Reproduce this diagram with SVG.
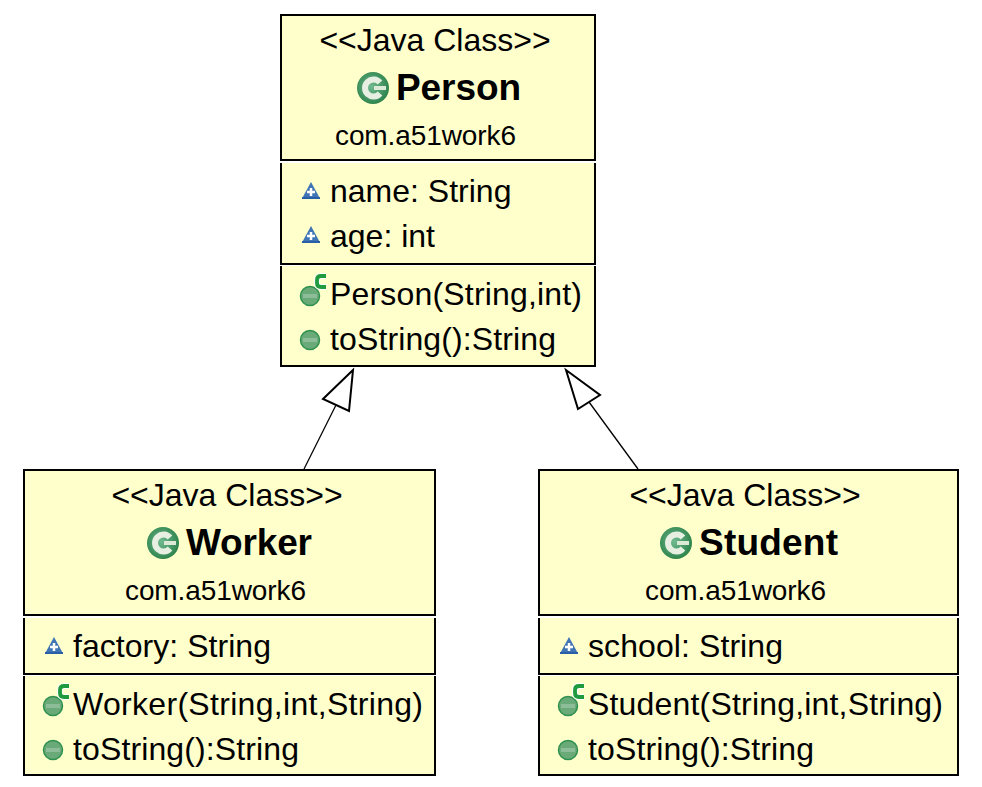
<svg xmlns="http://www.w3.org/2000/svg" width="982" height="787" viewBox="0 0 982 787">
<style>
text{font-family:"Liberation Sans",Arial,sans-serif;fill:#000;font-size:32px}
.fill{fill:#ffffcc;stroke:none}
.edge{fill:none;stroke:#000;stroke-width:2}
.pkg{font-size:28px}
.name{font-size:37px;font-weight:bold}
.conn{fill:none;stroke:#000;stroke-width:1.3}
.head{fill:#fff;stroke:#000;stroke-width:2}
</style>
<defs>
<radialGradient id="gc" cx="0.45" cy="0.45" r="0.6"><stop offset="0" stop-color="#6fb98f"/><stop offset="1" stop-color="#2a8048"/></radialGradient>
<g id="cls"><circle r="16" fill="url(#gc)"/><path d="M7 -5.500A8.500 8.500 0 1 0 7 5.500" fill="none" stroke="#e6efe2" stroke-width="6"/><path d="M1 0H13" stroke="#dbe9d6" stroke-width="4"/></g>
<g id="fld"><path d="M-9 6.500H9L0 -10Z" fill="#3f74b5"/><path d="M-9 6H9" stroke="#2a5fa8" stroke-width="2"/><path d="M0 -4V4M-4 0H4" stroke="#fff" stroke-width="2.500"/></g>
<g id="mth"><circle r="9.500" fill="#6aa978" stroke="#2f9150" stroke-width="1.500"/><path d="M-7 0H7" stroke="#8dbd98" stroke-width="4"/></g>
<g id="ctor"><use href="#mth"/><path d="M16 -20H11Q7 -20 7 -16V-13Q7 -9 11 -9H16" fill="none" stroke="#fff" stroke-width="6"/><path d="M16 -20H11Q7 -20 7 -16V-13Q7 -9 11 -9H16" fill="none" stroke="#1f9a3f" stroke-width="3.800"/></g>
</defs>
<g id="connectors">
<path class="conn" d="M304 469L336 405"/>
<path class="head" d="M353 370L323 399L349 411Z"/>
<path class="conn" d="M638 469L589 402"/>
<path class="head" d="M566 370L578 409L600 395Z"/>
</g>
<g id="person">
<rect class="fill" x="281" y="15" width="314" height="145"/>
<rect class="fill" x="281" y="163" width="314" height="101"/>
<rect class="fill" x="281" y="266" width="314" height="100"/>
<path class="edge" d="M281 160V15H595V160ZM281 163V264H595V163M281 266V366H595V266"/>
<text x="435" y="51" text-anchor="middle">&lt;&lt;Java Class&gt;&gt;</text>
<use href="#cls" x="373" y="88"/>
<text class="name" x="396" y="100" textLength="125">Person</text>
<text class="pkg" x="335" y="145" textLength="181">com.a51work6</text>
<use href="#fld" x="311" y="192"/>
<text x="330" y="202">name: String</text>
<use href="#fld" x="311" y="236"/>
<text x="330" y="247">age: int</text>
<use href="#ctor" x="310" y="296"/>
<text x="330" y="305" textLength="252">Person(String,int)</text>
<use href="#mth" x="310" y="340"/>
<text x="330" y="350" textLength="226">toString():String</text>
</g>
<g id="worker">
<rect class="fill" x="24" y="470" width="411" height="145"/>
<rect class="fill" x="24" y="618" width="411" height="56"/>
<rect class="fill" x="24" y="676" width="411" height="99"/>
<path class="edge" d="M24 615V470H435V615ZM24 618V674H435V618M24 676V775H435V676"/>
<text x="227" y="506" text-anchor="middle">&lt;&lt;Java Class&gt;&gt;</text>
<use href="#cls" x="163" y="543"/>
<text class="name" x="186" y="555" textLength="126">Worker</text>
<text class="pkg" x="125" y="600" textLength="181">com.a51work6</text>
<use href="#fld" x="54" y="647"/>
<text x="73" y="657" textLength="198">factory: String</text>
<use href="#ctor" x="53" y="706"/>
<text x="73" y="715" textLength="350">Worker(String,int,String)</text>
<use href="#mth" x="53" y="750"/>
<text x="73" y="760" textLength="226">toString():String</text>
</g>
<g id="student">
<rect class="fill" x="539" y="470" width="419" height="145"/>
<rect class="fill" x="539" y="618" width="419" height="56"/>
<rect class="fill" x="539" y="676" width="419" height="99"/>
<path class="edge" d="M539 615V470H958V615ZM539 618V674H958V618M539 676V775H958V676"/>
<text x="745" y="506" text-anchor="middle">&lt;&lt;Java Class&gt;&gt;</text>
<use href="#cls" x="676" y="543"/>
<text class="name" x="699" y="555" textLength="139">Student</text>
<text class="pkg" x="645" y="600" textLength="181">com.a51work6</text>
<use href="#fld" x="569" y="647"/>
<text x="588" y="657" textLength="195">school: String</text>
<use href="#ctor" x="568" y="706"/>
<text x="588" y="715" textLength="355">Student(String,int,String)</text>
<use href="#mth" x="568" y="750"/>
<text x="588" y="760" textLength="226">toString():String</text>
</g>
</svg>
